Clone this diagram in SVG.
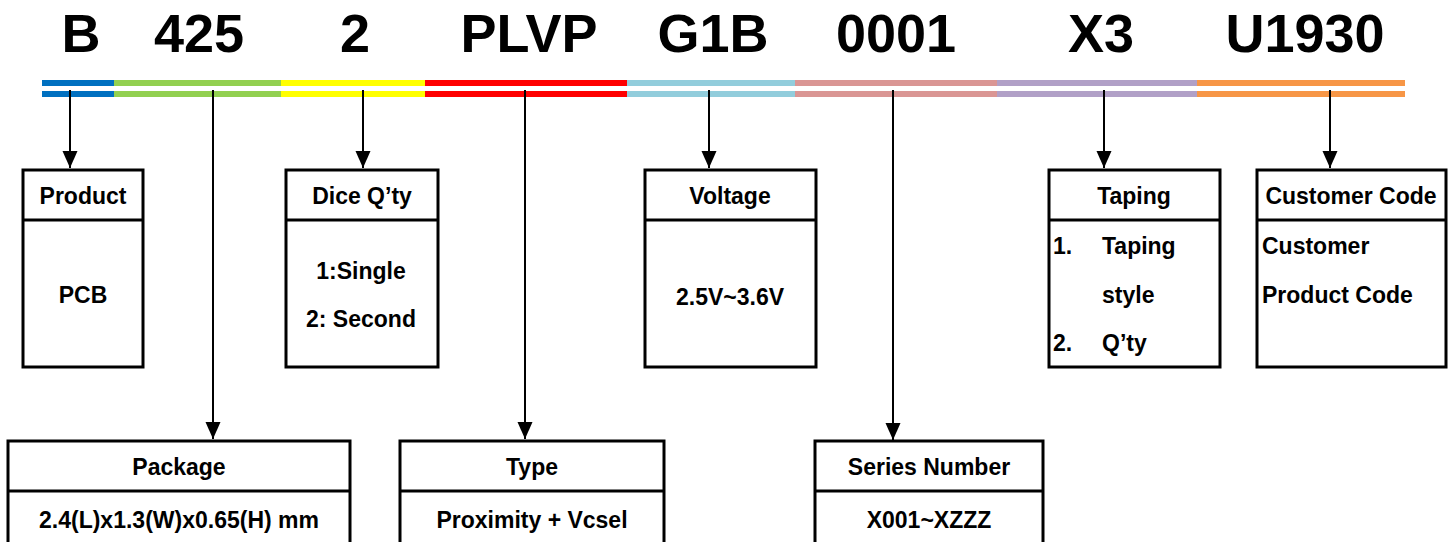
<svg xmlns="http://www.w3.org/2000/svg" width="1456" height="542" viewBox="0 0 1456 542">
<style>
.code{font-family:"Liberation Sans",Arial,sans-serif;font-weight:bold;font-size:54px;fill:#000;text-anchor:middle}
.t{font-family:"Liberation Sans",Arial,sans-serif;font-weight:bold;font-size:23px;fill:#000}
.c{text-anchor:middle}
.box{fill:#fff;stroke:#000;stroke-width:3}
.div{stroke:#000;stroke-width:3}
.conn{stroke:#000;stroke-width:2;fill:none;marker-end:url(#ah)}
</style>
<defs>
<marker id="ah" markerUnits="userSpaceOnUse" markerWidth="18" markerHeight="16" refX="17" refY="7.5" orient="auto">
<path d="M0,0 L17,7.5 L0,15 Z" fill="#000"/>
</marker>
</defs>
<rect width="1456" height="542" fill="#fff"/>
<g id="code">
<text class="code" x="81" y="52">B</text>
<text class="code" x="199" y="52">425</text>
<text class="code" x="355" y="52">2</text>
<text class="code" x="529" y="52">PLVP</text>
<text class="code" x="713" y="52">G1B</text>
<text class="code" x="896" y="52">0001</text>
<text class="code" x="1101" y="52">X3</text>
<text class="code" x="1305" y="52">U1930</text>
</g>
<g id="bars">
<rect x="42" y="80" width="72" height="6" fill="#0070C0"/><rect x="42" y="91" width="72" height="6" fill="#0070C0"/>
<rect x="114" y="80" width="167" height="6" fill="#92D050"/><rect x="114" y="91" width="167" height="6" fill="#92D050"/>
<rect x="281" y="80" width="144" height="6" fill="#FFFF00"/><rect x="281" y="91" width="144" height="6" fill="#FFFF00"/>
<rect x="425" y="80" width="202" height="6" fill="#FF0000"/><rect x="425" y="91" width="202" height="6" fill="#FF0000"/>
<rect x="627" y="80" width="168" height="6" fill="#92CDDC"/><rect x="627" y="91" width="168" height="6" fill="#92CDDC"/>
<rect x="795" y="80" width="202" height="6" fill="#DA9694"/><rect x="795" y="91" width="202" height="6" fill="#DA9694"/>
<rect x="997" y="80" width="200" height="6" fill="#B1A0C7"/><rect x="997" y="91" width="200" height="6" fill="#B1A0C7"/>
<rect x="1197" y="80" width="208" height="6" fill="#F79646"/><rect x="1197" y="91" width="208" height="6" fill="#F79646"/>
</g>
<g id="connectors">
<line class="conn" x1="70" y1="90" x2="70" y2="168"/>
<line class="conn" x1="213" y1="90" x2="213" y2="439"/>
<line class="conn" x1="363" y1="90" x2="363" y2="168"/>
<line class="conn" x1="525" y1="90" x2="525" y2="439"/>
<line class="conn" x1="709" y1="90" x2="709" y2="168"/>
<line class="conn" x1="893" y1="90" x2="893" y2="440"/>
<line class="conn" x1="1104" y1="90" x2="1104" y2="168"/>
<line class="conn" x1="1330" y1="90" x2="1330" y2="168"/>
</g>
<g id="product">
<rect class="box" x="23" y="170" width="120" height="197"/>
<line class="div" x1="23" y1="220" x2="143" y2="220"/>
<text class="t c" x="83" y="204">Product</text>
<text class="t c" x="83" y="303">PCB</text>
</g>
<g id="dice">
<rect class="box" x="286" y="170" width="152" height="197"/>
<line class="div" x1="286" y1="220" x2="438" y2="220"/>
<text class="t c" x="362" y="204">Dice Q’ty</text>
<text class="t c" x="361" y="279">1:Single</text>
<text class="t c" x="361" y="327">2: Second</text>
</g>
<g id="voltage">
<rect class="box" x="645" y="170" width="171" height="197"/>
<line class="div" x1="645" y1="220" x2="816" y2="220"/>
<text class="t c" x="730" y="204">Voltage</text>
<text class="t c" x="730" y="305">2.5V~3.6V</text>
</g>
<g id="taping">
<rect class="box" x="1049" y="170" width="171" height="197"/>
<line class="div" x1="1049" y1="220" x2="1220" y2="220"/>
<text class="t c" x="1134" y="204">Taping</text>
<text class="t" x="1053" y="254">1.</text>
<text class="t" x="1102" y="254">Taping</text>
<text class="t" x="1102" y="303">style</text>
<text class="t" x="1053" y="351">2.</text>
<text class="t" x="1102" y="351">Q’ty</text>
</g>
<g id="customer">
<rect class="box" x="1257" y="170" width="189" height="197"/>
<line class="div" x1="1257" y1="220" x2="1446" y2="220"/>
<text class="t c" x="1351" y="204">Customer Code</text>
<text class="t" x="1262" y="254">Customer</text>
<text class="t" x="1262" y="303">Product Code</text>
</g>
<g id="package">
<rect class="box" x="8" y="441" width="342" height="130"/>
<line class="div" x1="8" y1="491" x2="350" y2="491"/>
<text class="t c" x="179" y="475">Package</text>
<text class="t c" x="179" y="528">2.4(L)x1.3(W)x0.65(H) mm</text>
</g>
<g id="type">
<rect class="box" x="400" y="441" width="264" height="130"/>
<line class="div" x1="400" y1="491" x2="664" y2="491"/>
<text class="t c" x="532" y="475">Type</text>
<text class="t c" x="532" y="528">Proximity + Vcsel</text>
</g>
<g id="series">
<rect class="box" x="815" y="441" width="228" height="130"/>
<line class="div" x1="815" y1="491" x2="1043" y2="491"/>
<text class="t c" x="929" y="475">Series Number</text>
<text class="t c" x="929" y="528">X001~XZZZ</text>
</g>
</svg>
